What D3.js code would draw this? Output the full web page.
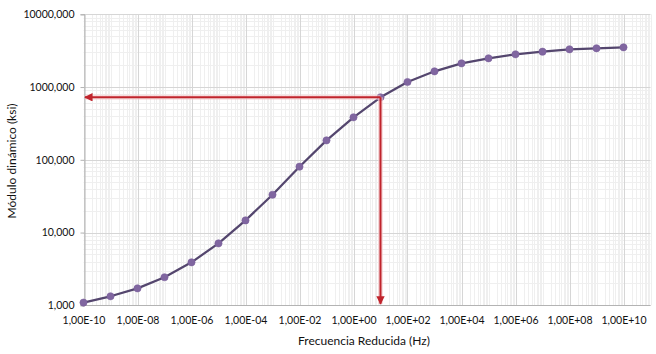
<!DOCTYPE html>
<html>
<head>
<meta charset="utf-8">
<script src="https://cdn.jsdelivr.net/npm/d3@7"></script>
<style>
    html, body { margin: 0; padding: 0; background: #fff; }
    #chart { width: 656px; height: 354px; }
    text { font-family: Lato, "Open Sans", sans-serif; fill: #111; }
</style>
</head>
<body>
<div id="chart"></div>
<script>
// reduced frequency (Hz), one point per decade
var frequencies = [1e-10, 1e-9, 1e-8, 1e-7, 1e-6, 1e-5, 1e-4, 1e-3, 1e-2, 1e-1,
                   1e0, 1e1, 1e2, 1e3, 1e4, 1e5, 1e6, 1e7, 1e8, 1e9, 1e10];
// dynamic modulus (ksi)
var modulus = [1.09, 1.33, 1.71, 2.43, 3.9, 7.1, 14.7, 33.1, 80.4, 185,
               384, 723, 1173, 1645, 2118, 2483, 2818, 3062, 3303, 3411, 3518];

var xTicks = [1e-10, 1e-8, 1e-6, 1e-4, 1e-2, 1e0, 1e2, 1e4, 1e6, 1e8, 1e10];
var xTickLabels = ["1,00E-10", "1,00E-08", "1,00E-06", "1,00E-04", "1,00E-02", "1,00E+00",
                   "1,00E+02", "1,00E+04", "1,00E+06", "1,00E+08", "1,00E+10"];
var yTicks = [1, 10, 100, 1000, 10000];
var yTickLabels = ["1,000", "10,000", "100,000", "1000,000", "10000,000"];

// point the red arrows are read from
var readIndex = 11;

var xTitle = "Frecuencia Reducida (Hz)";
var yTitle = "Módulo dinámico (ksi)";

function MasterCurveChart() {

    var mc = this;

    mc.draw = draw;

    /////////////////////////////////////

    function draw(selector) {
        var width = 656, height = 354;
        var plot = { left: 83.5, right: 650.5, top: 14.3, bottom: 305.3 };

        mc.svg = d3.select(selector).append("svg")
            .attr("width", width)
            .attr("height", height);

        var x = d3.scaleLog().domain([1e-10, 1e11]).range([plot.left, plot.right]);
        var y = d3.scaleLog().domain([1, 10000]).range([plot.bottom, plot.top]);

        // minor grid: 2..9 inside every decade
        var xMinor = [], yMinor = [];
        for (var e = -10; e < 11; e++) {
            for (var k = 1; k < 10; k++) {
                if (k === 1 && e % 2 === 0) continue; // major line there
                xMinor.push(k * Math.pow(10, e));
            }
        }
        xMinor.push(1e11);
        for (var e2 = 0; e2 < 4; e2++) {
            for (var k2 = 2; k2 < 10; k2++) yMinor.push(k2 * Math.pow(10, e2));
        }

        var grid = mc.svg.append("g").attr("class", "grid");

        grid.selectAll("line.xminor").data(xMinor).enter().append("line")
            .attr("class", "xminor")
            .attr("x1", function(d) { return Math.round(x(d)) + 0.5; })
            .attr("x2", function(d) { return Math.round(x(d)) + 0.5; })
            .attr("y1", plot.top).attr("y2", plot.bottom)
            .style("stroke", "#efefef");

        grid.selectAll("line.yminor").data(yMinor).enter().append("line")
            .attr("class", "yminor")
            .attr("x1", plot.left).attr("x2", plot.right)
            .attr("y1", function(d) { return Math.round(y(d)) + 0.5; })
            .attr("y2", function(d) { return Math.round(y(d)) + 0.5; })
            .style("stroke", "#efefef");

        grid.selectAll("line.xmajor").data(xTicks).enter().append("line")
            .attr("class", "xmajor")
            .attr("x1", function(d) { return Math.round(x(d)) + 0.5; })
            .attr("x2", function(d) { return Math.round(x(d)) + 0.5; })
            .attr("y1", plot.top).attr("y2", plot.bottom)
            .style("stroke", "#d6d6d6");

        grid.selectAll("line.ymajor").data(yTicks).enter().append("line")
            .attr("class", "ymajor")
            .attr("x1", plot.left).attr("x2", plot.right)
            .attr("y1", function(d) { return Math.round(y(d)) + 0.5; })
            .attr("y2", function(d) { return Math.round(y(d)) + 0.5; })
            .style("stroke", "#d6d6d6");

        // axes
        var yAxis = d3.axisLeft(y)
            .tickValues(yTicks)
            .tickFormat(function(d, i) { return yTickLabels[i]; })
            .tickSize(4)
            .tickPadding(6);
        var gy = mc.svg.append("g")
            .attr("transform", "translate(" + (Math.round(plot.left) + 0.5) + ",0)")
            .call(yAxis);

        var xAxis = d3.axisBottom(x)
            .tickValues(xTicks)
            .tickFormat(function(d, i) { return xTickLabels[i]; })
            .tickSize(0)
            .tickPadding(11);
        var gx = mc.svg.append("g")
            .attr("transform", "translate(0," + (Math.round(plot.bottom) + 0.5) + ")")
            .call(xAxis);

        [gx, gy].forEach(function(g) {
            g.select(".domain").style("stroke", "#b3b3b3");
            g.selectAll(".tick line").style("stroke", "#b3b3b3");
            g.selectAll(".tick text")
                .style("font-family", "Lato, 'Open Sans', sans-serif")
                .style("font-size", "10.5px")
                .style("fill", "#111");
        });
        gx.select(".domain").attr("d", "M" + plot.left + ",0H" + plot.right);

        // axis titles
        mc.svg.append("text")
            .attr("x", 364).attr("y", 345)
            .attr("text-anchor", "middle")
            .style("font-size", "12px")
            .text(xTitle);

        mc.svg.append("text")
            .attr("transform", "translate(16,161) rotate(-90)")
            .attr("text-anchor", "middle")
            .style("font-size", "12px")
            .text(yTitle);

        // master curve
        var pts = frequencies.map(function(f, i) { return [f, modulus[i]]; });
        var line = d3.line()
            .x(function(d) { return x(d[0]); })
            .y(function(d) { return y(d[1]); });

        mc.svg.append("path")
            .datum(pts)
            .attr("d", line)
            .style("fill", "none")
            .style("stroke", "#54466e")
            .style("stroke-width", 2.25)
            .style("stroke-linejoin", "round");

        mc.svg.selectAll("circle.pt").data(pts).enter().append("circle")
            .attr("class", "pt")
            .attr("cx", function(d) { return x(d[0]); })
            .attr("cy", function(d) { return y(d[1]); })
            .attr("r", 3.6)
            .style("fill", "#8066a0")
            .style("stroke", "#7a5f9c")
            .style("stroke-width", 0.6);

        // red reading arrows
        var px = x(frequencies[readIndex]), py = y(modulus[readIndex]);
        var red = "#c0242c";
        var defs = mc.svg.append("defs");
        defs.append("marker")
            .attr("id", "arrow")
            .attr("viewBox", "0 0 10 10")
            .attr("refX", 9).attr("refY", 5)
            .attr("markerWidth", 4.2).attr("markerHeight", 4.2)
            .attr("orient", "auto")
            .append("path")
                .attr("d", "M0,0L10,5L0,10Z")
                .style("fill", red);

        var arrows = [
            [[px, py], [plot.left + 1.5, py]],
            [[px, py], [px, plot.bottom - 1.5]]
        ];
        // soft glow underneath
        mc.svg.selectAll("line.glow").data(arrows).enter().append("line")
            .attr("class", "glow")
            .attr("x1", function(d) { return d[0][0]; }).attr("y1", function(d) { return d[0][1]; })
            .attr("x2", function(d) { return d[1][0]; }).attr("y2", function(d) { return d[1][1]; })
            .style("stroke", "#f6c9cc")
            .style("stroke-width", 5)
            .style("opacity", 0.6);
        mc.svg.selectAll("line.arrow").data(arrows).enter().append("line")
            .attr("class", "arrow")
            .attr("x1", function(d) { return d[0][0]; }).attr("y1", function(d) { return d[0][1]; })
            .attr("x2", function(d) { return d[1][0]; }).attr("y2", function(d) { return d[1][1]; })
            .style("stroke", red)
            .style("stroke-width", 2)
            .attr("marker-end", "url(#arrow)");
    }
}

(function() {
    var chart = new MasterCurveChart();
    chart.draw("#chart");
})();
</script>
</body>
</html>
